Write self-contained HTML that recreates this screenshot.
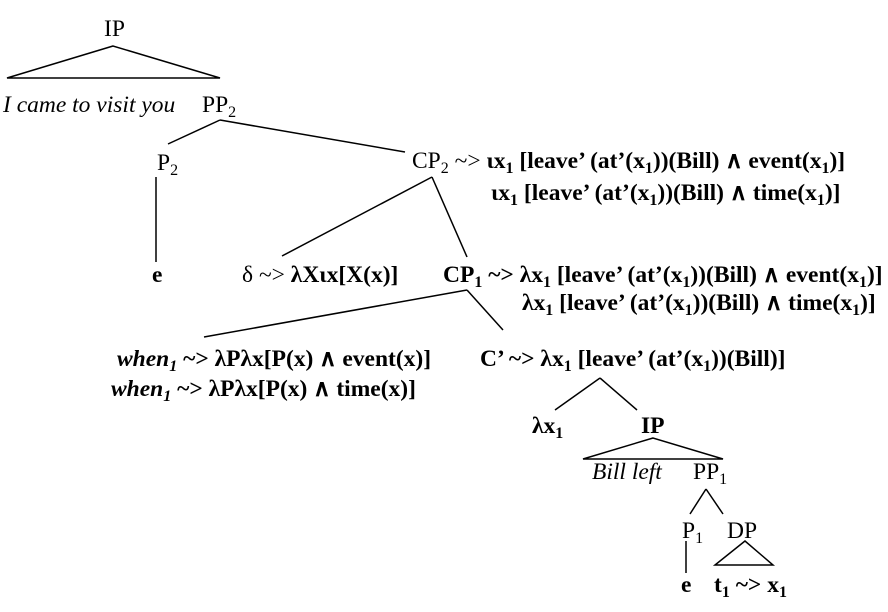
<!DOCTYPE html>
<html><head><meta charset="utf-8"><style>
html,body{margin:0;padding:0;background:#fff;}
svg{display:block;}
text{font-family:"Liberation Serif",serif;font-size:23.5px;fill:#000;}
.b{font-weight:bold;}
.i{font-style:italic;}
</style></head><body>
<svg width="888" height="612" viewBox="0 0 888 612" xmlns="http://www.w3.org/2000/svg">
<g stroke="#000" stroke-width="1.5" fill="none">
<polygon points="113,46 7,78 220,78"/>
<line x1="220" y1="120" x2="168" y2="144"/>
<line x1="220" y1="120" x2="405" y2="152"/>
<line x1="156" y1="177" x2="156" y2="262"/>
<line x1="432" y1="177" x2="282" y2="256"/>
<line x1="432" y1="177" x2="467" y2="257"/>
<line x1="467" y1="290" x2="204" y2="337"/>
<line x1="467" y1="290" x2="503" y2="330"/>
<line x1="600" y1="378" x2="555" y2="410"/>
<line x1="600" y1="378" x2="637" y2="410"/>
<polygon points="653,438 583,459 723,459"/>
<line x1="706" y1="489" x2="690" y2="514"/>
<line x1="706" y1="489" x2="723" y2="514"/>
<line x1="686" y1="541" x2="686" y2="573"/>
<polygon points="745,541 715,565 773,565"/>
</g>
<text x="104" y="36">IP</text>
<text x="3" y="112" class="i">I came to visit you</text>
<text x="202" y="112">PP<tspan font-size="16" dy="5">2</tspan></text>
<text x="157" y="170">P<tspan font-size="16" dy="5">2</tspan></text>
<text x="412" y="168">CP<tspan font-size="16" dy="5">2</tspan><tspan dy="-5"> ~&gt; </tspan><tspan class="b">ιx<tspan font-size="16" dy="5">1</tspan><tspan dy="-5"> [leave’ (at’(x</tspan><tspan font-size="16" dy="5">1</tspan><tspan dy="-5">))(Bill) ∧ event(x</tspan><tspan font-size="16" dy="5">1</tspan><tspan dy="-5">)]</tspan></tspan></text>
<text x="491" y="200" class="b">ιx<tspan font-size="16" dy="5">1</tspan><tspan dy="-5"> [leave’ (at’(x</tspan><tspan font-size="16" dy="5">1</tspan><tspan dy="-5">))(Bill) ∧ time(x</tspan><tspan font-size="16" dy="5">1</tspan><tspan dy="-5">)]</tspan></text>
<text x="152" y="282" class="b">e</text>
<text x="242" y="282">δ ~&gt; <tspan class="b">λXιx[X(x)]</tspan></text>
<text x="443" y="282" class="b">CP<tspan font-size="16" dy="5">1</tspan><tspan dy="-5"> ~&gt; λx</tspan><tspan font-size="16" dy="5">1</tspan><tspan dy="-5"> [leave’ (at’(x</tspan><tspan font-size="16" dy="5">1</tspan><tspan dy="-5">))(Bill) ∧ event(x</tspan><tspan font-size="16" dy="5">1</tspan><tspan dy="-5">)]</tspan></text>
<text x="522" y="310" class="b">λx<tspan font-size="16" dy="5">1</tspan><tspan dy="-5"> [leave’ (at’(x</tspan><tspan font-size="16" dy="5">1</tspan><tspan dy="-5">))(Bill) ∧ time(x</tspan><tspan font-size="16" dy="5">1</tspan><tspan dy="-5">)]</tspan></text>
<text x="117" y="366" class="b"><tspan class="i">when<tspan font-size="16" dy="5">1</tspan></tspan><tspan dy="-5"> ~&gt; λPλx[P(x) ∧ event(x)]</tspan></text>
<text x="111" y="396" class="b"><tspan class="i">when<tspan font-size="16" dy="5">1</tspan></tspan><tspan dy="-5"> ~&gt; λPλx[P(x) ∧ time(x)]</tspan></text>
<text x="480" y="366" class="b">C’ ~&gt; λx<tspan font-size="16" dy="5">1</tspan><tspan dy="-5"> [leave’ (at’(x</tspan><tspan font-size="16" dy="5">1</tspan><tspan dy="-5">))(Bill)]</tspan></text>
<text x="532" y="433" class="b">λx<tspan font-size="16" dy="5">1</tspan></text>
<text x="641" y="433" class="b">IP</text>
<text x="592" y="479" class="i">Bill left</text>
<text x="693" y="479">PP<tspan font-size="16" dy="5">1</tspan></text>
<text x="682" y="538">P<tspan font-size="16" dy="5">1</tspan></text>
<text x="727" y="538">DP</text>
<text x="681" y="592" class="b">e</text>
<text x="714" y="592" class="b">t<tspan font-size="16" dy="5">1</tspan><tspan dy="-5"> ~&gt; x</tspan><tspan font-size="16" dy="5">1</tspan></text>
</svg>
</body></html>
